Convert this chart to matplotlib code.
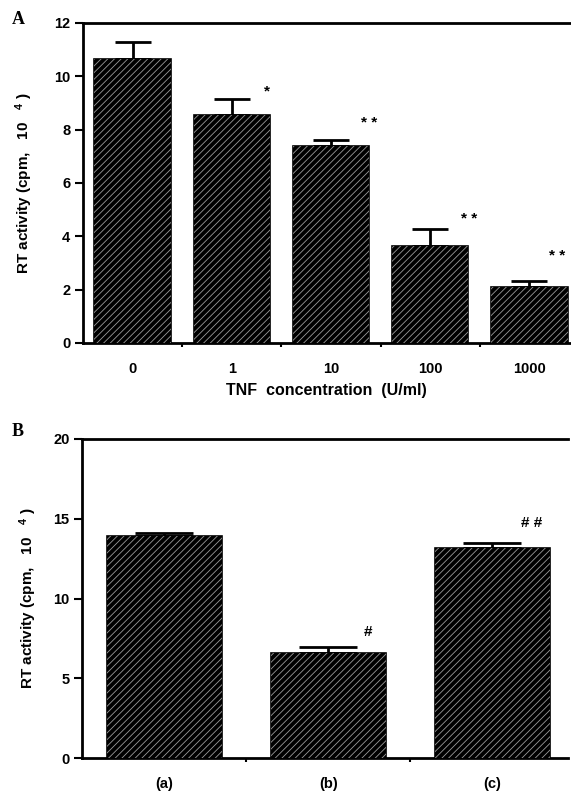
import matplotlib
matplotlib.use("Agg")
import matplotlib.pyplot as plt
import numpy as np

# Panel A data
tnf_labels = ["0", "1", "10", "100", "1000"]
rt_a = [10.64, 8.56, 7.40, 3.64, 2.10]
err_a = [0.66, 0.60, 0.20, 0.62, 0.23]
sig_a = ["", "*", "* *", "* *", "* *"]
sig_a_y = [0, 9.43, 8.26, 4.65, 3.27]

# Panel B data
cond_labels = ["(a)", "(b)", "(c)"]
rt_b = [13.94, 6.56, 13.15]
err_b = [0.16, 0.42, 0.35]
sig_b = ["", "#", "# #"]
sig_b_y = [0, 7.92, 14.73]

plt.rcParams['font.family'] = ['Liberation Sans', 'DejaVu Sans']
plt.rcParams['font.weight'] = 'bold'
plt.rcParams['axes.labelweight'] = 'bold'
plt.rcParams['mathtext.fontset'] = 'custom'
plt.rcParams['mathtext.rm'] = 'Liberation Sans:bold'
plt.rcParams['mathtext.default'] = 'rm'
plt.rcParams['hatch.linewidth'] = 0.6

fig = plt.figure(figsize=(5.71, 7.92), dpi=100)
axA = fig.add_axes([83/571, 1-343/792, (570-83)/571, (343-23)/792])
axB = fig.add_axes([82/571, 1-758/792, (568-82)/571, (758-439)/792])


def draw_bars(ax, vals, errs, width, capsize):
    x = np.arange(len(vals))
    ax.bar(x, vals, width, color='black', edgecolor='black', linewidth=1.2, zorder=2)
    ax.bar(x, vals, width, color='none', edgecolor='#9a9a9a', hatch='/////', linewidth=0, zorder=3)
    ax.errorbar(x, vals, yerr=[np.zeros(len(vals)), errs], fmt='none', ecolor='black',
                elinewidth=2, capsize=capsize, capthick=2, zorder=1)
    return x


def style(ax):
    ax.spines['right'].set_visible(False)
    for s in ['top', 'left', 'bottom']:
        ax.spines[s].set_linewidth(2)
    ax.tick_params(axis='y', direction='out', length=6, width=1.5, labelsize=10.5, pad=3)
    ax.tick_params(axis='x', which='both', length=0, labelsize=10.5, pad=14)
    ax.tick_params(axis='x', which='minor', length=3, width=1.5)


# Panel A
xA = draw_bars(axA, rt_a, err_a, 0.77, 13.3)
axA.set_xlim(-0.5, 4.41)
axA.set_ylim(0, 12)
axA.set_yticks([0, 2, 4, 6, 8, 10, 12])
axA.set_xticks(xA)
axA.set_xticklabels(tnf_labels)
axA.set_xticks(np.arange(0.5, 4, 1), minor=True)
style(axA)
offs_a = [0, 0.35, 0.38, 0.39, 0.28]
for i, (s, y) in enumerate(zip(sig_a, sig_a_y)):
    if s:
        axA.text(i + offs_a[i], y, s, ha='center', va='center', fontsize=11)
axA.set_xlabel("TNF  concentration  (U/ml)", fontsize=11.5, labelpad=5)
axA.set_ylabel("RT activity (cpm,   10   $^{4}$ )", fontsize=11, labelpad=14)
fig.text(12/571, 1-20/792, "A", family='Liberation Serif', fontsize=13, fontweight='bold',
         ha='left', va='center')

# Panel B
xB = draw_bars(axB, rt_b, err_b, 0.70, 20.9)
axB.set_xlim(-0.5, 2.46)
axB.set_ylim(0, 20)
axB.set_yticks([0, 5, 10, 15, 20])
axB.set_xticks(xB)
axB.set_xticklabels(cond_labels)
axB.set_xticks([0.5, 1.5], minor=True)
style(axB)
for i, (s, y) in enumerate(zip(sig_b, sig_b_y)):
    if s:
        axB.text(i + 0.24, y, s, ha='center', va='center', fontsize=11)
axB.set_ylabel("RT activity (cpm,   10   $^{4}$ )", fontsize=11, labelpad=10)
fig.text(12/571, 1-432/792, "B", family='Liberation Serif', fontsize=13, fontweight='bold',
         ha='left', va='center')

fig.savefig("out.png", dpi=100)
